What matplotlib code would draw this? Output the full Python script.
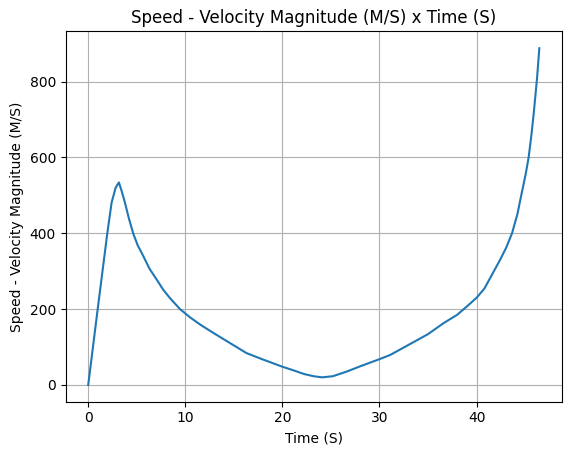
import matplotlib
matplotlib.use("Agg")
import matplotlib.pyplot as plt

# values
time_s = [0, 1.0, 1.96, 2.41, 2.82, 3.16, 3.4, 3.78, 4.2, 4.64, 5.1,
          5.67, 6.3, 7.05, 7.7, 8.42, 9.45, 10.5, 11.6, 12.9, 14.5, 16.3,
          18, 20, 21.2, 22.2, 23.2, 24.1, 25.2, 26.6, 28.1, 30, 31.1, 33.3,
          35, 36.6, 38, 39, 40, 40.8, 41.4, 42.44, 43.05, 43.65, 44.2, 44.68,
          45.05, 45.36, 45.65, 45.88, 46.23, 46.46]
speed = [0, 205, 399, 481, 520, 534, 515, 481, 438, 399, 368,
         340, 307, 278, 252, 229, 200, 178, 158, 137, 112, 84,
         67, 48, 38, 29, 23, 20, 23, 35, 50, 68, 79, 110,
         134, 163, 185, 207, 230, 254, 282, 331, 362, 400, 450, 510,
         555, 600, 660, 715, 810, 888]

fig = plt.figure(figsize=(5.71, 4.55), dpi=100)
ax = fig.add_axes([0.115, 0.117, 0.869, 0.814])
ax.plot(time_s, speed)
ax.set_title("Speed - Velocity Magnitude (M/S) x Time (S)")
ax.set_xlabel("Time (S)")
ax.set_ylabel("Speed - Velocity Magnitude (M/S)")
ax.grid(True)
fig.savefig("out.png", dpi=100)
plt.close()
